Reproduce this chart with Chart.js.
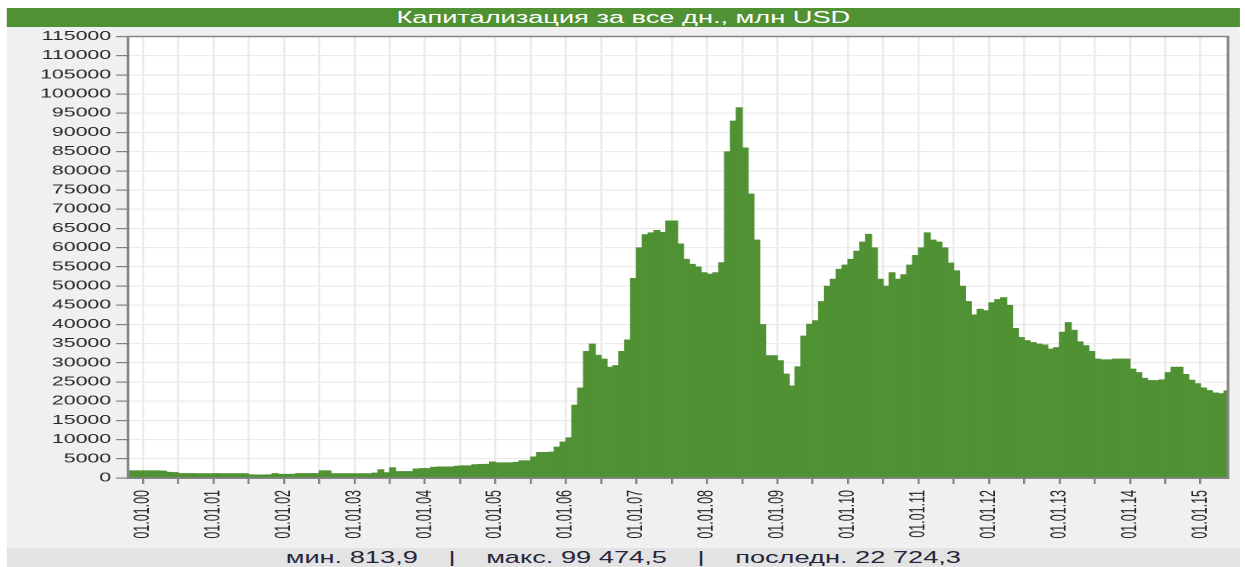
<!DOCTYPE html>
<html lang="ru">
<head>
<meta charset="UTF-8">
<title>Капитализация за все дн., млн USD</title>
<script src="https://cdn.jsdelivr.net/npm/chart.js@4.4.0/dist/chart.umd.min.js"></script>
<style>
  html, body { margin: 0; padding: 0; background: #fff; }
  /* the source picture is stretched sideways, so the whole block is drawn narrow and scaled */
  #wrap { position: absolute; left: 0; top: 0; width: 732px; height: 567px;
          transform: scaleX(1.7008); transform-origin: 0 0;
          font-family: "Liberation Sans", Arial, sans-serif; }
  #panel { position: absolute; left: 4px; top: 8px; width: 725px; height: 540px; background: #f0f0f0; }
  #title { position: absolute; left: 4px; top: 8px; width: 725px; height: 19px; background: #509134;
           color: #fff; font-size: 16px; line-height: 19px; text-align: center; }
  #stats { position: absolute; left: 4px; top: 548px; width: 725px; height: 19px; background: #e3e3e3;
           color: #26263a; font-size: 16px; line-height: 19px; text-align: center; white-space: pre; }
  #stats .sep { margin: 0 18px; }
  #box { position: absolute; left: 0; top: 26px; width: 732px; height: 522px; }
</style>
</head>
<body>
<div id="wrap">
  <div id="panel"></div>
  <div id="title">Капитализация за все дн., млн USD</div>
  <div id="box"><canvas id="chart" width="732" height="522"></canvas></div>
  <div id="stats"></div>
</div>

<script>
// monthly capitalisation, mln USD, from Oct 1999 to May 2015
const startYear = 1999;
const startMonth = 10;
const capValues = [
  1900, 1900, 1900,                                                           // 1999
  1900, 1900, 1900, 1850, 1500, 1450, 1200, 1200, 1200, 1150, 1150, 1150,     // 2000
  1200, 1150, 1150, 1150, 1150, 1150, 850, 830, 814, 850, 1200, 1000,         // 2001
  1000, 1000, 1200, 1200, 1200, 1200, 1900, 1900, 1150, 1150, 1150, 1150,     // 2002
  1150, 1150, 1150, 1300, 2200, 1400, 2700, 1700, 1700, 1700, 2400, 2500,     // 2003
  2500, 2800, 2900, 2900, 2900, 3100, 3200, 3200, 3500, 3550, 3600, 4200,     // 2004
  4000, 4000, 4000, 4100, 4500, 4500, 5500, 6700, 6700, 6800, 8100, 9400,     // 2005
  10500, 19000, 23500, 33000, 34900, 32000, 31000, 28900, 29300, 33000, 36000, 52000, // 2006
  60000, 63400, 63900, 64500, 64000, 67000, 67000, 61000, 57000, 55700, 55000, 53500, // 2007
  53100, 53500, 56100, 85000, 93000, 96500, 86000, 74000, 62000, 40000, 31900, 31900, // 2008
  30600, 27100, 24000, 29000, 37000, 40100, 41000, 46000, 50000, 51800, 54400, 55500, // 2009
  57000, 59100, 61500, 63500, 60000, 51800, 50000, 53500, 51800, 53000, 55500, 58000, // 2010
  60000, 63900, 62000, 61500, 60000, 56000, 54000, 50000, 46000, 42500, 44000, 43600, // 2011
  45700, 46500, 47000, 45000, 39000, 36600, 35800, 35300, 34900, 34700, 33600, 34000, // 2012
  38000, 40500, 38500, 35500, 34500, 33000, 31000, 30800, 30800, 31000, 31000, 31000, // 2013
  28400, 27500, 26000, 25400, 25400, 25600, 27500, 28900, 28900, 27000, 25500, 24600, // 2014
  23500, 22800, 22200, 22000, 22724                                             // 2015
];

const yearTicks = [2000, 2001, 2002, 2003, 2004, 2005, 2006, 2007, 2008, 2009, 2010, 2011, 2012, 2013, 2014, 2015];
const yearLabels = ['01.01.00', '01.01.01', '01.01.02', '01.01.03', '01.01.04', '01.01.05', '01.01.06', '01.01.07',
                    '01.01.08', '01.01.09', '01.01.10', '01.01.11', '01.01.12', '01.01.13', '01.01.14', '01.01.15'];
const statLabels = ['мин. 813,9', 'макс. 99 474,5', 'последн. 22 724,3'];

document.getElementById('stats').innerHTML = statLabels.join('<span class="sep">|</span>');

// middle of each month as a decimal year
const points = capValues.map((v, i) => ({
  x: startYear + (startMonth - 1 + i + 0.5) / 12,
  y: v
}));

const plotFrame = {
  id: 'plotFrame',
  beforeDraw(chart) {
    const { ctx, chartArea: a } = chart;
    ctx.save();
    ctx.fillStyle = '#ffffff';
    ctx.fillRect(a.left, a.top, a.right - a.left, a.bottom - a.top);
    ctx.restore();
  },
  afterDraw(chart) {
    const { ctx, chartArea: a } = chart;
    ctx.save();
    ctx.strokeStyle = '#858585';
    ctx.lineWidth = 1.5;
    ctx.strokeRect(a.left, a.top, a.right - a.left, a.bottom - a.top);
    ctx.restore();
  }
};

Chart.defaults.font.family = '"Liberation Sans", Arial, sans-serif';

new Chart(document.getElementById('chart'), {
  type: 'bar',
  data: {
    datasets: [{
      data: points,
      backgroundColor: '#509134',
      borderWidth: 0,
      barPercentage: 1,
      categoryPercentage: 1,
      clip: 0
    }]
  },
  options: {
    responsive: false,
    animation: false,
    devicePixelRatio: 2,
    layout: { padding: { top: 9, right: 10, left: 0, bottom: 0 } },
    plugins: { legend: { display: false }, tooltip: { enabled: false } },
    scales: {
      x: {
        type: 'linear',
        min: 1999.79,
        max: 2015.39,
        offset: false,
        grid: { color: '#ebebeb', lineWidth: 1.2, tickColor: '#808080', tickLength: 6, offset: false },
        border: { color: '#858585', width: 1.5 },
        ticks: {
          stepSize: 0.5,
          autoSkip: false,
          includeBounds: false,
          minRotation: 90,
          maxRotation: 90,
          padding: 6,
          color: '#262626',
          font: { size: 12.5 },
          callback: v => {
            const k = yearTicks.indexOf(Math.round(v * 2) / 2);
            return k >= 0 ? yearLabels[k] : '';
          }
        },
        afterFit: s => { s.height = 70; }
      },
      y: {
        min: 0,
        max: 115000,
        grid: { color: '#ebebeb', lineWidth: 1.2, tickColor: '#808080', tickLength: 7 },
        border: { color: '#858585', width: 1.5 },
        ticks: {
          stepSize: 5000,
          autoSkip: false,
          padding: 3,
          color: '#262626',
          font: { size: 12.5 },
          callback: v => String(v)
        },
        afterFit: s => { s.width = 75.3; }
      }
    }
  },
  plugins: [plotFrame]
});
</script>
</body>
</html>
